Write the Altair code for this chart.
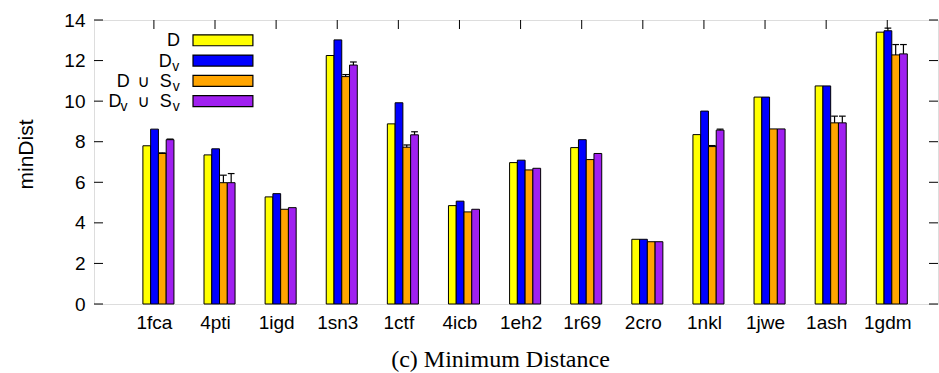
import altair as alt
import pandas as pd

# ---- data ----
categories = ["1fca", "4pti", "1igd", "1sn3", "1ctf", "4icb", "1eh2",
              "1r69", "2cro", "1nkl", "1jwe", "1ash", "1gdm"]
series_names = ["D", "Dv", "D ∪ Sv", "Dv ∪ Sv"]
series_colors = ["#ffff00", "#0000ff", "#ffa500", "#a020f0"]

val_D = [7.80, 7.35, 5.28, 12.25, 8.88, 4.85, 6.97, 7.71, 3.19, 8.35, 10.20, 10.75, 13.40]
val_Dv = [8.62, 7.65, 5.44, 13.02, 9.92, 5.07, 7.09, 8.10, 3.19, 9.51, 10.20, 10.75, 13.47]
val_DS = [7.42, 5.98, 4.67, 11.21, 7.73, 4.54, 6.61, 7.12, 3.07, 7.76, 8.63, 8.93, 12.28]
val_DvS = [8.10, 5.98, 4.75, 11.78, 8.34, 4.67, 6.69, 7.42, 3.07, 8.57, 8.63, 8.93, 12.33]

err_D = [0, 0, 0, 0, 0, 0, 0, 0, 0, 0, 0, 0, 0]
err_Dv = [0, 0, 0, 0, 0, 0, 0, 0, 0, 0, 0, 0, 0.13]
err_DS = [0.03, 0.37, 0, 0.10, 0.11, 0, 0, 0, 0, 0.05, 0, 0.33, 0.51]
err_DvS = [0.03, 0.45, 0, 0.15, 0.15, 0, 0, 0, 0, 0.05, 0, 0.33, 0.46]

y_ticks = [0, 2, 4, 6, 8, 10, 12, 14]
legend_rows = [13, 12, 11, 10]

# legend label pieces: (row index, glyph, kind) kind: main / sub / sym
legend_pieces = [
    (0, "D", "main"),
    (1, "D", "main"), (1, "v", "sub"),
    (2, "D", "main"), (2, "∪", "sym"), (2, "S", "main"), (2, "v", "sub"),
    (3, "D", "main"), (3, "v", "sub"), (3, "∪", "sym"), (3, "S", "main"), (3, "v", "sub"),
]

# ---- layout constants ----
W_PLOT, H_PLOT = 844, 284
X_DOMAIN = [-0.98, 12.83]
Y_DOMAIN = [0, 14]
BAR_W = 0.127
GROUP_OFF = -0.18
TICK_LEN = 9
# pixel centres (inside plot) of the legend glyphs, in the order of legend_pieces
piece_px = [79.5, 71.3, 81.8, 29.3, 49.8, 71.8, 82.3, 21.0, 30.0, 49.8, 71.8, 82.3]

values = [val_D, val_Dv, val_DS, val_DvS]
errors = [err_D, err_Dv, err_DS, err_DvS]

rows = []
for j, name in enumerate(series_names):
    for i, cat in enumerate(categories):
        x0 = i + GROUP_OFF + j * BAR_W
        v = values[j][i]
        e = errors[j][i]
        rows.append({
            "cat": cat, "series": name, "order": j,
            "x0": x0, "x1": x0 + BAR_W, "xc": x0 + BAR_W / 2,
            "cl": x0 + BAR_W / 2 - 0.055, "cr": x0 + BAR_W / 2 + 0.055,
            "value": v, "err": e, "top": v + e,
        })
df = pd.DataFrame(rows)
df_err = df[df["err"] > 0]

xs = alt.Scale(domain=X_DOMAIN, nice=False, zero=False)
ys = alt.Scale(domain=Y_DOMAIN, nice=False)
color = alt.Color("series:N", scale=alt.Scale(domain=series_names, range=series_colors), legend=None)

label_js = "[" + ",".join("'%s'" % c for c in categories) + "]"

bars = alt.Chart(df).mark_rect(stroke="black", strokeWidth=1).encode(
    x=alt.X("x0:Q", scale=xs,
            axis=alt.Axis(values=list(range(len(categories))),
                          labelExpr=label_js + "[datum.value]",
                          ticks=False, domain=False, grid=False,
                          labelFont="Liberation Sans", labelFontSize=19,
                          labelColor="black", labelPadding=9,
                          title="(c) Minimum Distance",
                          titleFont="Liberation Serif", titleFontSize=24,
                          titleFontWeight="normal", titleColor="black",
                          titleX=406, titleY=62, titleBaseline="alphabetic",
                          titleAlign="center")),
    x2="x1:Q",
    y=alt.Y("value:Q", scale=ys,
            axis=alt.Axis(values=y_ticks, ticks=False, domain=False, grid=False,
                          labelFont="Liberation Sans", labelFontSize=19,
                          labelColor="black", labelPadding=9,
                          title="minDist", titleFont="Liberation Sans",
                          titleFontSize=21, titleFontWeight="normal",
                          titleColor="black", titleX=-68, titleY=134,
                          titleAlign="center", titleBaseline="middle")),
    y2=alt.datum(0),
    color=color,
)

err_lines = alt.Chart(df_err).mark_rule(color="black", strokeWidth=1.2).encode(
    x=alt.X("xc:Q", scale=xs), y=alt.Y("value:Q", scale=ys), y2="top:Q")
err_caps = alt.Chart(df_err).mark_rule(color="black", strokeWidth=1.2).encode(
    x=alt.X("cl:Q", scale=xs), x2="cr:Q", y=alt.Y("top:Q", scale=ys))

leg_df = pd.DataFrame({"series": series_names, "row": legend_rows,
                       "lo": [r - 0.27 for r in legend_rows],
                       "hi": [r + 0.27 for r in legend_rows],
                       "kx0": [0.64] * 4, "kx1": [1.62] * 4})
leg_keys = alt.Chart(leg_df).mark_rect(stroke="black", strokeWidth=1.2).encode(
    x=alt.X("kx0:Q", scale=xs), x2="kx1:Q",
    y=alt.Y("lo:Q", scale=ys), y2="hi:Q", color=color)

piece_df = pd.DataFrame({
    "row": [legend_rows[p[0]] for p in legend_pieces],
    "glyph": [p[1] for p in legend_pieces],
    "kind": [p[2] for p in legend_pieces],
    "px": piece_px,
})


def pieces(kind, dy, font, size):
    return alt.Chart(piece_df[piece_df["kind"] == kind]).mark_text(
        align="center", baseline="alphabetic", dy=dy,
        font=font, fontSize=size, color="black").encode(
        x=alt.X("px:Q", scale=None), y=alt.Y("row:Q", scale=ys), text="glyph:N")


leg_main = pieces("main", 6, "Liberation Sans", 18)
leg_sub = pieces("sub", 10, "Liberation Sans", 14)
leg_sym = pieces("sym", 6, "DejaVu Sans", 17)

tick_df = pd.DataFrame({"t": y_ticks})
left_ticks = alt.Chart(tick_df).mark_rule(color="black", strokeWidth=1).encode(
    x=alt.value(0), x2=alt.value(TICK_LEN), y=alt.Y("t:Q", scale=ys))
right_ticks = alt.Chart(tick_df).mark_rule(color="black", strokeWidth=1).encode(
    x=alt.value(W_PLOT - TICK_LEN), x2=alt.value(W_PLOT), y=alt.Y("t:Q", scale=ys))
cat_df = pd.DataFrame({"i": list(range(len(categories)))})
top_ticks = alt.Chart(cat_df).mark_rule(color="black", strokeWidth=1).encode(
    x=alt.X("i:Q", scale=xs), y=alt.value(0), y2=alt.value(TICK_LEN))

chart = alt.layer(
    left_ticks, right_ticks, top_ticks, bars, err_lines, err_caps,
    leg_keys, leg_main, leg_sub, leg_sym
).properties(
    width=W_PLOT, height=H_PLOT,
    autosize=alt.AutoSizeParams(type="none"),
    padding={"left": 94, "top": 20, "right": 1, "bottom": 69},
).configure_view(
    stroke="black", strokeWidth=1.6
).configure(background="white")

chart.save("out.html", embed_options={"renderer": "svg", "actions": False})
